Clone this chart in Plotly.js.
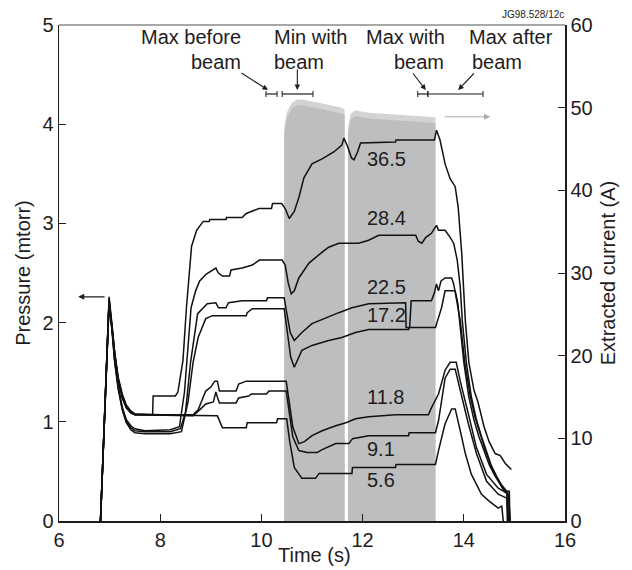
<!DOCTYPE html>
<html><head><meta charset="utf-8">
<script src="https://cdn.plot.ly/plotly-3.0.1.min.js"></script>
<style>html,body{margin:0;padding:0;background:#fff}#chart{width:632px;height:570px}</style>
</head><body><div id="chart"></div>
<script>
// ---- Beam (extracted current, A) ----
const beamT1 = [10.45, 10.45, 10.5, 10.6, 10.7, 10.8, 11.14, 11.59, 11.645, 11.645];
const beamI1 = [0, 47.5, 49.4, 50.6, 51.0, 51.0, 50.6, 50.0, 49.8, 0];
const beamT2 = [11.71, 11.71, 11.76, 11.85, 12.12, 12.77, 13.44, 13.44];
const beamI2 = [0, 47.5, 49.2, 49.7, 49.4, 49.1, 48.85, 0];

// ---- Pressure traces (mtorr) ----
const tA = [6.82,6.99,7.05,7.1,7.17,7.25,7.33,7.42,7.5,7.85,7.86,8.3,8.35,8.45,8.52,8.62,8.72,8.85,8.97,8.98,9.3,9.31,9.62,9.7,9.8,9.95,10.2,10.22,10.4,10.47,10.55,10.65,10.74,10.84,11.0,11.2,11.43,11.59,11.63,11.7,11.78,11.83,11.9,11.96,12.65,12.66,13.42,13.46,13.53,13.63,13.73,13.83,13.89,13.96,14.03,14.1,14.2,14.28,14.4,14.5,14.62,14.72,14.82,14.94];
const pA = [0,2.26,1.97,1.7,1.42,1.24,1.14,1.09,1.07,1.07,1.26,1.26,1.3,1.62,2.16,2.77,2.93,3.02,3.02,3.04,3.04,3.06,3.06,3.1,3.12,3.15,3.15,3.2,3.2,3.15,3.05,3.12,3.26,3.46,3.6,3.65,3.72,3.79,3.86,3.78,3.66,3.64,3.72,3.81,3.82,3.84,3.84,3.94,3.84,3.6,3.45,3.37,3.16,2.69,2.02,1.6,1.32,1.2,0.95,0.8,0.68,0.66,0.58,0.52];

const tB = [6.82,6.99,7.05,7.1,7.17,7.25,7.33,7.42,7.5,7.7,8.2,8.38,8.48,8.55,8.61,8.7,8.78,8.91,9.03,9.1,9.15,9.23,9.37,9.4,9.62,9.82,9.96,10.41,10.47,10.53,10.59,10.65,10.74,10.94,11.2,11.33,11.53,11.92,12.12,12.32,13.05,13.1,13.17,13.25,13.36,13.46,13.5,13.63,13.73,13.8,13.87,13.93,13.97,14.05,14.15,14.25,14.35,14.45,14.55,14.65,14.75,14.85,14.9,14.91];
const pB = [0,2.24,1.93,1.63,1.36,1.15,1.02,0.96,0.93,0.91,0.92,0.95,1.3,1.8,2.15,2.32,2.42,2.49,2.53,2.55,2.5,2.47,2.47,2.53,2.55,2.58,2.63,2.63,2.58,2.4,2.29,2.32,2.45,2.6,2.71,2.76,2.8,2.8,2.83,2.88,2.88,2.82,2.8,2.86,2.9,2.98,2.93,2.93,2.86,2.8,2.63,2.36,2.02,1.6,1.25,1.02,0.85,0.7,0.55,0.45,0.36,0.3,0.3,0];

const tC = [6.82,6.99,7.05,7.1,7.17,7.25,7.33,7.42,7.5,7.7,8.2,8.4,8.5,8.6,8.74,8.85,8.93,9.1,9.15,9.3,9.35,9.62,10.1,10.12,10.45,10.5,10.57,10.65,10.8,11.0,11.27,11.53,11.79,12.12,12.85,12.86,12.93,12.96,13.36,13.42,13.46,13.5,13.55,13.63,13.76,13.8,13.85,13.93,14.02,14.12,14.22,14.32,14.42,14.52,14.62,14.72,14.82,14.87,14.88];
const pC = [0,2.22,1.92,1.62,1.35,1.13,1.0,0.94,0.91,0.9,0.9,0.93,1.1,1.6,2.09,2.15,2.19,2.2,2.15,2.15,2.2,2.22,2.22,2.25,2.25,2.1,1.9,1.82,1.9,1.99,2.05,2.1,2.15,2.19,2.2,1.95,1.95,2.22,2.22,2.3,2.39,2.32,2.42,2.45,2.45,2.39,2.25,2.02,1.6,1.28,1.05,0.88,0.72,0.58,0.46,0.38,0.3,0.28,0];

const tD = [6.82,6.99,7.05,7.1,7.17,7.25,7.33,7.42,7.5,7.7,8.2,8.42,8.55,8.65,8.75,8.83,8.9,9.03,9.7,9.72,9.82,10.45,10.5,10.58,10.65,10.8,11.0,11.33,11.59,11.86,12.12,12.91,12.92,13.44,13.5,13.56,13.63,13.83,13.88,13.93,14.0,14.1,14.2,14.3,14.4,14.5,14.6,14.7,14.8,14.85,14.86];
const pD = [0,2.2,1.9,1.6,1.33,1.12,0.99,0.92,0.89,0.88,0.88,0.9,1.2,1.6,1.85,1.95,2.04,2.07,2.07,2.1,2.14,2.14,1.95,1.65,1.55,1.72,1.77,1.82,1.85,1.9,1.93,1.93,1.95,1.95,2.05,2.15,2.32,2.32,2.2,1.95,1.6,1.25,1.02,0.85,0.7,0.57,0.47,0.38,0.3,0.28,0];

const tE = [6.82,6.99,7.05,7.1,7.17,7.25,7.33,7.42,7.5,8.0,8.65,8.75,8.82,8.9,9.0,9.08,9.13,9.17,9.5,9.55,9.7,10.49,10.55,10.62,10.74,10.85,11.0,11.2,11.47,11.67,11.86,12.12,12.65,13.3,13.36,13.5,13.63,13.73,13.85,13.93,14.09,14.25,14.45,14.68,14.88,14.92];
const pE = [0,2.22,1.95,1.7,1.45,1.28,1.17,1.11,1.08,1.07,1.07,1.12,1.21,1.31,1.35,1.41,1.41,1.31,1.31,1.38,1.41,1.41,1.2,0.95,0.78,0.8,0.86,0.91,0.96,0.99,1.03,1.05,1.07,1.07,1.14,1.28,1.52,1.6,1.6,1.41,1.08,0.74,0.47,0.33,0.27,0];

const tF = [6.82,6.99,7.05,7.1,7.17,7.25,7.33,7.42,7.5,8.65,8.78,8.9,9.05,9.1,9.13,9.17,9.5,9.55,9.75,9.8,10.1,10.15,10.49,10.55,10.62,10.74,10.9,11.1,11.2,11.47,11.73,11.8,12.12,12.91,12.92,13.44,13.5,13.63,13.73,13.83,13.93,14.09,14.25,14.45,14.68,14.85,14.88];
const pF = [0,2.2,1.93,1.68,1.43,1.26,1.15,1.1,1.07,1.06,1.12,1.18,1.2,1.3,1.25,1.19,1.19,1.24,1.26,1.28,1.28,1.31,1.31,1.1,0.85,0.71,0.69,0.69,0.72,0.78,0.78,0.83,0.86,0.86,0.89,0.89,1.01,1.44,1.53,1.53,1.31,0.98,0.68,0.4,0.27,0.23,0];

const tG = [6.82,6.99,7.05,7.1,7.17,7.25,7.33,7.42,7.5,9.13,9.23,9.7,9.72,10.3,10.32,10.5,10.56,10.65,10.8,11.07,11.14,11.79,11.8,12.65,12.66,13.44,13.5,13.63,13.76,13.83,13.93,14.03,14.15,14.35,14.5,14.68,14.75,14.78];
const pG = [0,2.2,1.93,1.68,1.43,1.25,1.14,1.09,1.07,1.06,0.94,0.94,0.99,0.99,1.03,1.03,0.8,0.54,0.43,0.43,0.48,0.48,0.54,0.54,0.57,0.57,0.71,0.98,1.13,1.13,0.91,0.68,0.47,0.27,0.2,0.13,0.15,0];

const seriesLabels = ['36.5','28.4','22.5','17.2','11.8','9.1','5.6'];
const xTicks = [6, 8, 10, 12, 14, 16];
const pTicks = [0, 1, 2, 3, 4, 5];
const iTicks = [0, 10, 20, 30, 40, 50, 60];
// time windows marked above the plot
const winStart = [10.09, 10.41, 13.09, 13.29];
const winEnd   = [10.31, 11.02, 13.29, 14.38];

// ---- layout helpers ----
const L = 59, R = 565, T = 25, B = 521;
const px = v => (v - L) / (R - L);
const py = v => (B - v) / (B - T);
const ink = '#1f1c1d';
const font = 'Liberation Sans, Arial, Helvetica, sans-serif';
const FS = 20;
const bandW = 0.7;

const traces = [];
[[beamT1, beamI1], [beamT2, beamI2]].forEach(([t, I]) => {
  traces.push({x: t, y: I, yaxis: 'y', type: 'scatter', mode: 'lines', fill: 'tozeroy',
    fillcolor: '#d2d3d5', line: {width: 0, color: '#d2d3d5'}, hoverinfo: 'skip', showlegend: false});
  traces.push({x: t, y: I.map(v => v > 0 ? v - bandW : 0), yaxis: 'y', type: 'scatter', mode: 'lines', fill: 'tozeroy',
    fillcolor: '#bcbec0', line: {width: 0, color: '#bcbec0'}, hoverinfo: 'skip', showlegend: false});
});
[[tA,pA],[tB,pB],[tC,pC],[tD,pD],[tE,pE],[tF,pF],[tG,pG]].forEach(([t,p], i) => {
  traces.push({x: t, y: p, yaxis: 'y2', type: 'scatter', mode: 'lines', name: seriesLabels[i],
    line: {color: '#111', width: 1.5}, showlegend: false});
});

const labelY = [3.65, 3.05, 2.36, 2.08, 1.25, 0.73, 0.41];
const annotations = seriesLabels.map((s, i) => ({
  xref: 'x', yref: 'y2', x: 12.05, y: labelY[i], xanchor: 'left', yanchor: 'middle',
  text: s, showarrow: false, font: {family: font, size: FS, color: ink}
}));
const topTexts = [
  ['Max before', 139, 36.5], ['beam', 189, 61.5],
  ['Min with', 272, 36.5], ['beam', 272, 61.5],
  ['Max with', 364, 36.5], ['beam', 392, 61.5],
  ['Max after', 467, 36.5], ['beam', 470, 61.5]
];
topTexts.forEach(([s, x, y]) => annotations.push({
  xref: 'paper', yref: 'paper', x: px(x), y: py(y), xanchor: 'left', yanchor: 'middle',
  text: s, showarrow: false, font: {family: font, size: FS, color: ink}
}));
annotations.push({xref: 'paper', yref: 'paper', x: px(566), y: py(15), xanchor: 'right', yanchor: 'middle',
  text: 'JG98.528/12c', showarrow: false, font: {family: font, size: 10, color: ink}});
annotations.push({xref: 'paper', yref: 'paper', x: px(314), y: py(555), xanchor: 'center', yanchor: 'middle',
  text: 'Time (s)', showarrow: false, font: {family: font, size: FS, color: ink}});
// pointer arrows to the windows
const arrowDefs = [[10.13, -28, -18], [10.71, 0, -22], [13.25, -14, -18], [13.89, 17, -18]];
arrowDefs.forEach(([x, ax, ay]) => annotations.push({
  xref: 'x', yref: 'paper', x: x, y: py(90), ax: ax, ay: ay, text: '', showarrow: true,
  arrowhead: 2, arrowsize: 1, arrowwidth: 1.1, arrowcolor: ink
}));
// axis-indicating arrows
annotations.push({xref: 'x', yref: 'y2', x: 6.38, y: 2.26, axref: 'x', ayref: 'y2', ax: 6.93, ay: 2.26,
  text: '', showarrow: true, arrowhead: 2, arrowsize: 1, arrowwidth: 1.2, arrowcolor: ink});
annotations.push({xref: 'x', yref: 'y', x: 14.52, y: 48.9, axref: 'x', ayref: 'y', ax: 13.59, ay: 48.9,
  text: '', showarrow: true, arrowhead: 2, arrowsize: 1, arrowwidth: 1.2, arrowcolor: '#aaaaaa'});

const shapes = [{type: 'line', xref: 'paper', yref: 'paper', x0: 0, x1: 1, y0: 1, y1: 1,
  line: {color: '#8a8a8a', width: 1.5}}];
const barY = py(94), cap = 3 / (B - T);
winStart.forEach((s, i) => {
  const e = winEnd[i];
  shapes.push({type: 'line', xref: 'x', yref: 'paper', x0: s, x1: e, y0: barY, y1: barY, line: {color: ink, width: 1.2}});
  shapes.push({type: 'line', xref: 'x', yref: 'paper', x0: s, x1: s, y0: barY - cap, y1: barY + cap, line: {color: ink, width: 1}});
  shapes.push({type: 'line', xref: 'x', yref: 'paper', x0: e, x1: e, y0: barY - cap, y1: barY + cap, line: {color: ink, width: 1}});
});

const axisCommon = {
  ticks: 'inside', ticklen: 7, tickwidth: 1, tickcolor: ink, showline: true, linecolor: ink, linewidth: 1.5,
  showgrid: false, zeroline: false, tickfont: {family: font, size: FS, color: ink}
};
const layout = {
  width: 632, height: 570,
  margin: {l: L, r: 632 - R, t: T, b: 570 - B, pad: 0},
  paper_bgcolor: '#fff', plot_bgcolor: '#fff', showlegend: false,
  font: {family: font, color: ink},
  xaxis: Object.assign({}, axisCommon, {range: [6, 16], tickvals: xTicks, ticktext: xTicks.map(String)}),
  yaxis: Object.assign({}, axisCommon, {range: [0, 60], side: 'right', tickvals: iTicks, ticktext: iTicks.map(String),
    title: {text: 'Extracted current (A)', font: {family: font, size: FS, color: ink}, standoff: 9}}),
  yaxis2: Object.assign({}, axisCommon, {range: [0, 5], side: 'left', overlaying: 'y', tickvals: pTicks, ticktext: pTicks.map(String),
    title: {text: 'Pressure (mtorr)', font: {family: font, size: FS, color: ink}, standoff: 6}}),
  annotations: annotations, shapes: shapes
};
Plotly.newPlot('chart', traces, layout, {staticPlot: true, displayModeBar: false});
</script></body></html>
